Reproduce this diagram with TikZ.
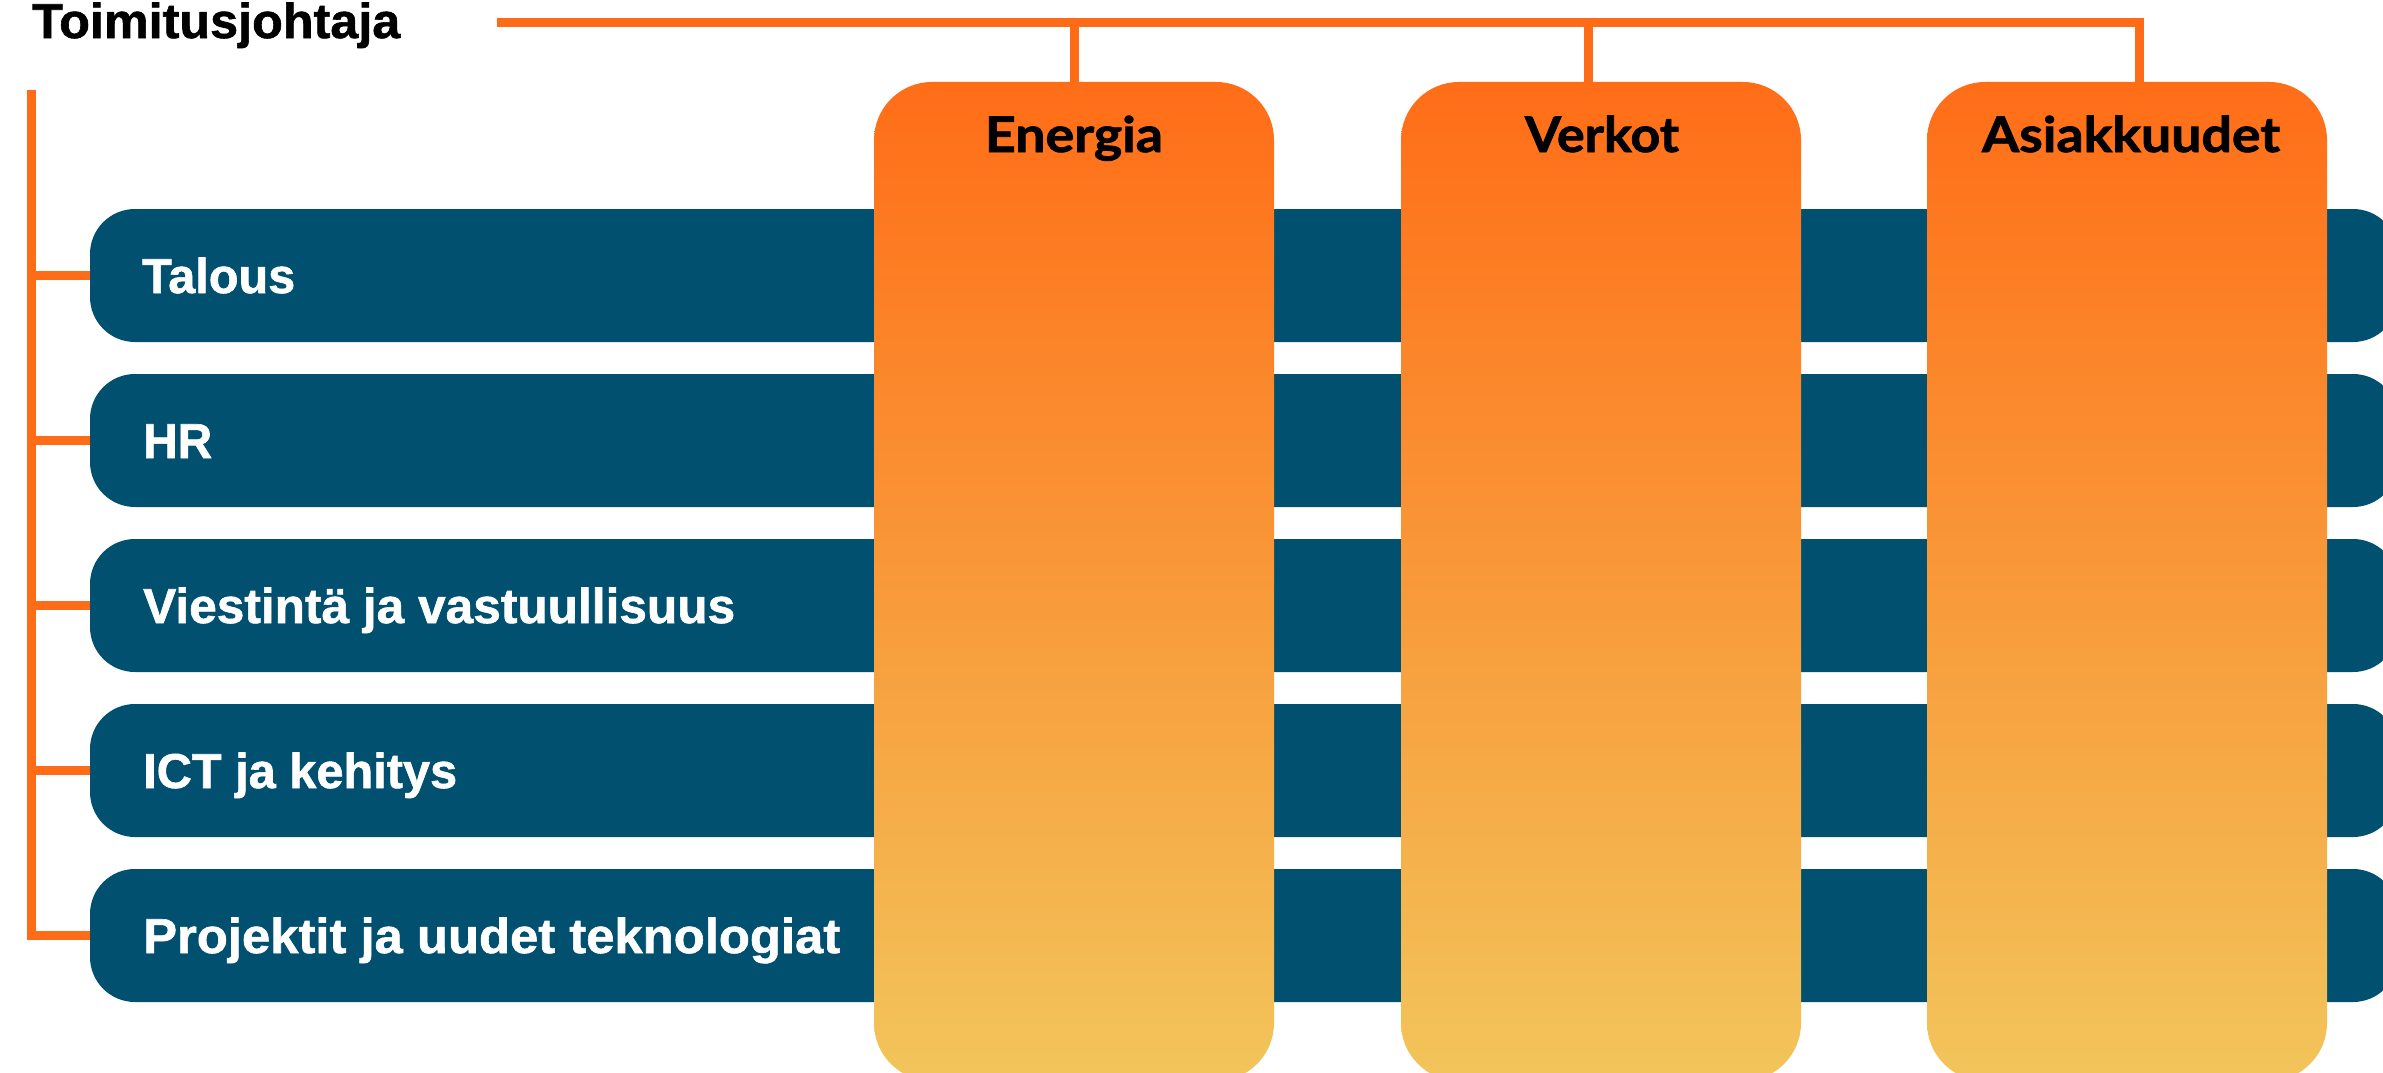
\documentclass[tikz,border=0pt]{standalone}
\usepackage{graphicx}
\usepackage{fontspec}
\newfontfamily\barfont{Liberation Sans}[BoldFeatures={FakeBold=1.2}]
\newfontfamily\colfont{Lato}[BoldFeatures={FakeBold=1.5}]
\definecolor{barblue}{HTML}{01506F}
\definecolor{lineorange}{HTML}{FF6C17}
\definecolor{gradtop}{HTML}{FF6D17}
\definecolor{gradbot}{HTML}{F2C55B}
\newcommand\fitw[2]{\resizebox{#1}{\height}{#2}}
\tikzset{
  conn/.style={draw=lineorange, line width=9pt},
  bar/.style={fill=barblue, rounded corners=45pt, minimum width=2308pt, minimum height=133pt, inner sep=0pt},
  colbox/.style={rounded corners=58pt, top color=gradtop, bottom color=gradbot, shading angle=0, minimum width=400pt, minimum height=999pt, inner sep=0pt},
  bartext/.style={anchor=base west, inner sep=0pt, text=white, font=\barfont\bfseries\fontsize{49pt}{52pt}\selectfont},
  coltext/.style={anchor=base, inner sep=0pt, text=black, font=\colfont\bfseries\fontsize{49pt}{52pt}\selectfont},
  ceotext/.style={anchor=base west, inner sep=0pt, text=black, font=\barfont\bfseries\fontsize{49pt}{52pt}\selectfont}
}
\begin{document}
\begin{tikzpicture}[x=1pt, y=-1pt]
\useasboundingbox (0,0) rectangle (2383,1073);
\clip (0,0) rectangle (2383,1073);
% bars
\node[bar] (talous) at (1244,275.5) {};
\node[bar] (hr) at (1244,440.5) {};
\node[bar] (viestinta) at (1244,605.5) {};
\node[bar] (ict) at (1244,770.5) {};
\node[bar] (projektit) at (1244,935.5) {};
\node[bartext] (talousT) at (142,293) {\fitw{153pt}{Talous}};
\node[bartext] (hrT) at (143,458) {\fitw{69pt}{HR}};
\node[bartext] (viestintaT) at (143,623) {\fitw{592pt}{Viestintä ja vastuullisuus}};
\node[bartext] (ictT) at (143,788) {\fitw{314pt}{ICT ja kehitys}};
\node[bartext] (projektitT) at (143,953) {\fitw{697pt}{Projektit ja uudet teknologiat}};
% columns
\node[colbox] (energia) at (1074,581.5) {};
\node[colbox] (verkot) at (1601,581.5) {};
\node[colbox] (asiak) at (2127,581.5) {};
\node[coltext] (energiaT) at (1074,152) {\fitw{178pt}{Energia}};
\node[coltext] (verkotT) at (1602,152) {\fitw{154pt}{Verkot}};
\node[coltext] (asiakT) at (2131,152) {\fitw{298pt}{Asiakkuudet}};
% CEO
\node[ceotext] (ceo) at (32,38) {\fitw{368pt}{Toimitusjohtaja}};
% top connectors
\coordinate (tstart) at (497,23);
\coordinate (tcorner) at (2139,23);
\draw[conn] (tstart) -- (tcorner) -- (tcorner |- asiak.north);
\draw[conn] (energia.north |- tstart) -- (energia.north);
\draw[conn] ([xshift=-13pt]verkot.north |- tstart) -- ([xshift=-13pt]verkot.north);
% left connectors
\coordinate (lv) at (31.5,90);
\draw[conn] (lv) |- (projektit.west);
\draw[conn] (lv |- talous.west) -- (talous.west);
\draw[conn] (lv |- hr.west) -- (hr.west);
\draw[conn] (lv |- viestinta.west) -- (viestinta.west);
\draw[conn] (lv |- ict.west) -- (ict.west);
\end{tikzpicture}
\end{document}
